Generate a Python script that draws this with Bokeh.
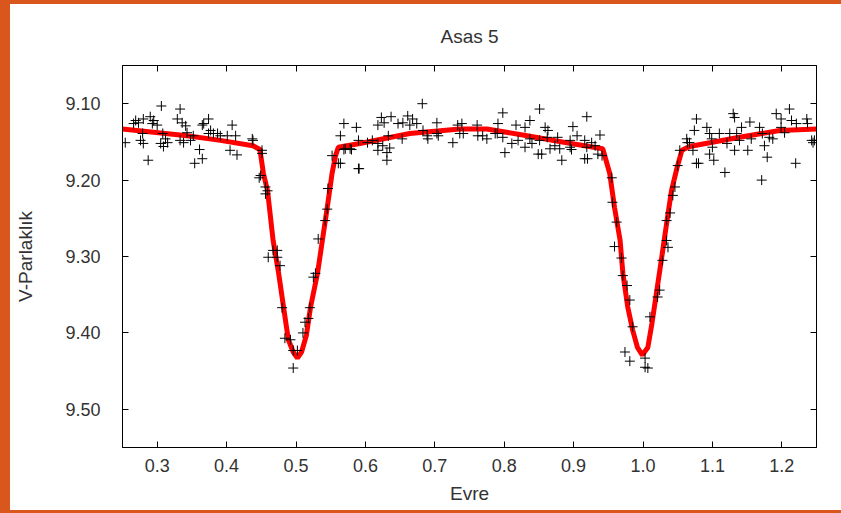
from bokeh.plotting import figure
from bokeh.models import (Range1d, FixedTicker, PrintfTickFormatter, LinearAxis,
                          Div, ColumnDataSource)
from bokeh.layouts import row, column
from bokeh.embed import file_html
from bokeh.resources import INLINE

title_text = "Asas 5"
x_label = "Evre"
y_label = "V-Parlaklık"
x_ticks = [0.3, 0.4, 0.5, 0.6, 0.7, 0.8, 0.9, 1.0, 1.1, 1.2]
y_ticks = [9.10, 9.20, 9.30, 9.40, 9.50]

# model light curve
model_phase = [0.25, 0.343, 0.391, 0.438, 0.448, 0.453, 0.459, 0.467, 0.475, 0.482,
               0.489, 0.496, 0.502, 0.508, 0.515, 0.521, 0.531, 0.538, 0.545, 0.552,
               0.557, 0.561, 0.592, 0.664, 0.736, 0.775, 0.833, 0.890, 0.942, 0.952,
               0.959, 0.967, 0.971, 0.978, 0.985, 0.992, 0.999, 1.007, 1.013, 1.020,
               1.027, 1.034, 1.041, 1.049, 1.056, 1.067, 1.139, 1.197, 1.25]
model_mag = [9.133, 9.142, 9.148, 9.155, 9.160, 9.191, 9.214, 9.279, 9.322, 9.366,
             9.409, 9.425, 9.433, 9.425, 9.403, 9.366, 9.322, 9.279, 9.236, 9.191,
             9.168, 9.157, 9.152, 9.139, 9.133, 9.133, 9.142, 9.151, 9.159, 9.191,
             9.236, 9.279, 9.322, 9.366, 9.396, 9.419, 9.429, 9.419, 9.387, 9.344,
             9.301, 9.257, 9.214, 9.184, 9.161, 9.156, 9.144, 9.135, 9.133]

# observations
obs_phase = [
    0.254, 0.269, 0.266, 0.273, 0.280, 0.290, 0.295, 0.300, 0.293, 0.279,
    0.276, 0.280, 0.287, 0.306, 0.308, 0.305, 0.309, 0.315, 0.312, 0.333,
    0.329, 0.336, 0.341, 0.343, 0.333, 0.338, 0.348, 0.352, 0.361, 0.365,
    0.354, 0.374, 0.367, 0.365, 0.377, 0.381, 0.387, 0.374, 0.391, 0.408,
    0.401, 0.413, 0.405, 0.415, 0.437, 0.438, 0.451, 0.451, 0.447, 0.456,
    0.459, 0.449, 0.456, 0.467, 0.473, 0.460, 0.473, 0.477, 0.480, 0.484,
    0.492, 0.496, 0.502, 0.496, 0.510, 0.513, 0.518, 0.520, 0.525, 0.528,
    0.532, 0.542, 0.545, 0.546, 0.561, 0.571, 0.578, 0.590, 0.552, 0.564,
    0.569, 0.580, 0.591, 0.564, 0.569, 0.587, 0.590, 0.603, 0.610, 0.618,
    0.623, 0.627, 0.637, 0.618, 0.618, 0.625, 0.631, 0.635, 0.631, 0.633,
    0.647, 0.653, 0.654, 0.661, 0.664, 0.668, 0.674, 0.682, 0.683, 0.689,
    0.690, 0.703, 0.703, 0.705, 0.726, 0.733, 0.739, 0.736, 0.741, 0.761,
    0.762, 0.769, 0.775, 0.787, 0.791, 0.790, 0.798, 0.798, 0.801, 0.811,
    0.817, 0.820, 0.830, 0.837, 0.830, 0.840, 0.837, 0.851, 0.851, 0.849,
    0.854, 0.859, 0.863, 0.862, 0.866, 0.873, 0.880, 0.883, 0.877, 0.895,
    0.899, 0.905, 0.895, 0.897, 0.916, 0.919, 0.919, 0.916, 0.920, 0.926,
    0.938, 0.931, 0.935, 0.941, 0.955, 0.956, 0.962, 0.959, 0.969, 0.971,
    0.977, 0.981, 0.985, 0.974, 0.981, 1.003, 1.003, 1.007, 1.010, 1.021,
    1.024, 1.028, 1.036, 1.034, 1.034, 1.039, 1.043, 1.046, 1.050, 1.053,
    1.067, 1.077, 1.063, 1.064, 1.072, 1.077, 1.074, 1.080, 1.092, 1.096,
    1.099, 1.096, 1.100, 1.102, 1.110, 1.118, 1.121, 1.125, 1.130, 1.132,
    1.135, 1.132, 1.142, 1.139, 1.151, 1.154, 1.156, 1.168, 1.171, 1.172,
    1.175, 1.179, 1.182, 1.187, 1.192, 1.199, 1.199, 1.204, 1.211, 1.214,
    1.221, 1.220, 1.236, 1.237, 1.243, 1.245, 1.247,
]
obs_mag = [
    9.151, 9.122, 9.126, 9.125, 9.120, 9.117, 9.122, 9.128, 9.126, 9.139,
    9.148, 9.152, 9.174, 9.103, 9.139, 9.152, 9.156, 9.151, 9.146, 9.107,
    9.120, 9.125, 9.129, 9.138, 9.148, 9.151, 9.148, 9.142, 9.160, 9.172,
    9.178, 9.120, 9.126, 9.128, 9.135, 9.139, 9.139, 9.139, 9.142, 9.128,
    9.142, 9.142, 9.161, 9.167, 9.146, 9.148, 9.161, 9.165, 9.197, 9.209,
    9.214, 9.194, 9.218, 9.292, 9.292, 9.301, 9.301, 9.312, 9.367, 9.407,
    9.409, 9.423, 9.423, 9.446, 9.400, 9.386, 9.381, 9.367, 9.327, 9.322,
    9.277, 9.253, 9.238, 9.211, 9.178, 9.159, 9.159, 9.185, 9.168, 9.178,
    9.160, 9.160, 9.185, 9.142, 9.126, 9.131, 9.148, 9.151, 9.148, 9.128,
    9.118, 9.125, 9.117, 9.152, 9.161, 9.155, 9.164, 9.158, 9.174, 9.142,
    9.126, 9.146, 9.125, 9.116, 9.128, 9.120, 9.126, 9.100, 9.135, 9.142,
    9.146, 9.125, 9.139, 9.142, 9.151, 9.128, 9.126, 9.139, 9.139, 9.128,
    9.142, 9.142, 9.146, 9.139, 9.126, 9.139, 9.112, 9.144, 9.164, 9.152,
    9.128, 9.148, 9.131, 9.122, 9.157, 9.152, 9.146, 9.107, 9.148, 9.166,
    9.166, 9.131, 9.135, 9.144, 9.159, 9.155, 9.159, 9.174, 9.144, 9.148,
    9.130, 9.142, 9.157, 9.160, 9.148, 9.117, 9.157, 9.172, 9.172, 9.151,
    9.141, 9.155, 9.166, 9.168, 9.197, 9.229, 9.255, 9.287, 9.302, 9.325,
    9.338, 9.357, 9.392, 9.425, 9.437, 9.433, 9.445, 9.446, 9.379, 9.353,
    9.344, 9.305, 9.288, 9.279, 9.253, 9.243, 9.220, 9.209, 9.181, 9.161,
    9.151, 9.178, 9.146, 9.151, 9.161, 9.120, 9.135, 9.178, 9.131, 9.139,
    9.146, 9.166, 9.157, 9.174, 9.139, 9.190, 9.152, 9.139, 9.113, 9.118,
    9.139, 9.161, 9.131, 9.148, 9.161, 9.124, 9.146, 9.131, 9.200, 9.139,
    9.155, 9.170, 9.144, 9.146, 9.113, 9.120, 9.131, 9.138, 9.107, 9.122,
    9.126, 9.178, 9.120, 9.126, 9.148, 9.151, 9.148,
]

FONT = "Liberation Sans"
TXT = "#333333"
ORANGE = "#d9561c"

p = figure(width=831, height=506, output_backend="svg", toolbar_location=None,
           x_range=Range1d(0.25, 1.25), y_range=Range1d(9.55, 9.05),
           min_border_left=112, min_border_right=25, min_border_top=61,
           min_border_bottom=63, margin=0)
p.background_fill_color = "white"
p.border_fill_color = "white"
p.outline_line_color = "black"
p.outline_line_width = 1
p.xgrid.visible = False
p.ygrid.visible = False

p.title.text = title_text
p.title.align = "center"
p.title.text_font = FONT
p.title.text_font_size = "19px"
p.title.text_font_style = "normal"
p.title.text_color = TXT
p.title.standoff = 37

for ax in (p.xaxis[0], p.yaxis[0]):
    ax.axis_line_color = "black"
    ax.major_tick_line_color = "black"
    ax.major_tick_in = 6
    ax.major_tick_out = 0
    ax.minor_tick_line_color = None
    ax.major_label_text_font = FONT
    ax.major_label_text_font_size = "18px"
    ax.major_label_text_color = TXT
    ax.axis_label_text_font = FONT
    ax.axis_label_text_font_size = "19px"
    ax.axis_label_text_font_style = "normal"
    ax.axis_label_text_color = TXT

p.xaxis[0].ticker = FixedTicker(ticks=x_ticks)
p.xaxis[0].formatter = PrintfTickFormatter(format="%.1f")
p.xaxis[0].major_label_standoff = 11
p.xaxis[0].axis_label = x_label
p.xaxis[0].axis_label_standoff = 8

p.yaxis[0].ticker = FixedTicker(ticks=y_ticks)
p.yaxis[0].formatter = PrintfTickFormatter(format="%.2f")
p.yaxis[0].major_label_standoff = 22
p.yaxis[0].axis_label = y_label
p.yaxis[0].axis_label_standoff = 26

# mirrored inward ticks on right and top (no labels)
ax_r = LinearAxis(ticker=FixedTicker(ticks=y_ticks), major_tick_in=6, major_tick_out=0,
                  minor_tick_line_color=None, major_label_text_color=None,
                  axis_line_color="black")
ax_t = LinearAxis(ticker=FixedTicker(ticks=x_ticks), major_tick_in=6, major_tick_out=0,
                  minor_tick_line_color=None, major_label_text_color=None,
                  axis_line_color="black")
p.add_layout(ax_r, "right")
p.add_layout(ax_t, "above")

src_obs = ColumnDataSource(dict(x=obs_phase, y=obs_mag))
src_mod = ColumnDataSource(dict(x=model_phase, y=model_mag))

p.line("x", "y", source=src_mod, line_color="red", line_width=5)
p.scatter("x", "y", source=src_obs, marker="cross", size=10,
          line_color="black", line_width=1)

left_strip = Div(width=10, height=513, margin=0, styles={"background-color": ORANGE})
top_strip = Div(width=831, height=4, margin=0, styles={"background-color": ORANGE})
bottom_strip = Div(width=831, height=3, margin=0, styles={"background-color": ORANGE})

layout = row(left_strip, column(top_strip, p, bottom_strip, spacing=0, margin=0),
             spacing=0, margin=0)

open("out.html", "w").write(file_html(layout, INLINE))
